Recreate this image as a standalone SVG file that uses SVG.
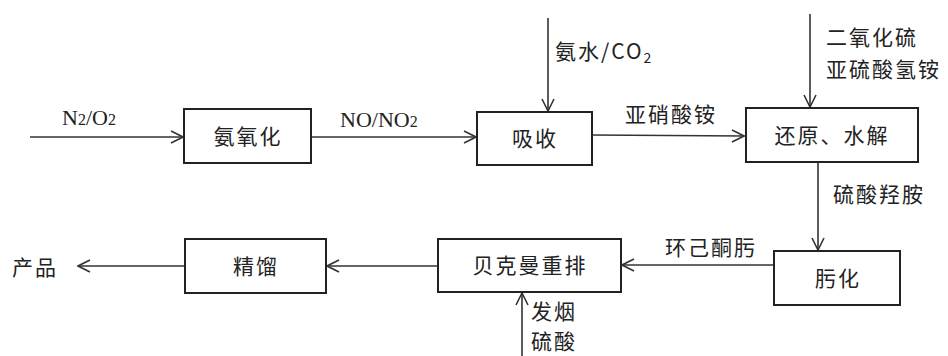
<svg xmlns="http://www.w3.org/2000/svg" width="948" height="356" viewBox="0 0 948 356">
<style>
.box{fill:#fff;stroke:#222;stroke-width:2}
.ln{fill:none;stroke:#333;stroke-width:1.6;marker-end:url(#ar)}
.t{font-family:"Noto Sans CJK SC","Noto Sans CJK JP",sans-serif;font-size:21px;fill:#222;letter-spacing:2px}
.bt{text-anchor:middle}
.r{font-family:"Liberation Serif",serif;font-size:22px;fill:#222}
</style>
<defs>
<marker id="ar" viewBox="0 0 14 14" refX="13" refY="7" markerWidth="14" markerHeight="14" markerUnits="userSpaceOnUse" orient="auto">
<path d="M1,1 L13,7 L1,13" fill="none" stroke="#333" stroke-width="1.6"/>
</marker>
</defs>
<rect width="948" height="356" fill="#fff"/>
<g id="connectors">
<line class="ln" x1="30" y1="137" x2="183" y2="137"/>
<line class="ln" x1="311" y1="137" x2="476" y2="137"/>
<line class="ln" x1="548" y1="18" x2="548" y2="111"/>
<line class="ln" x1="592" y1="135" x2="744" y2="136"/>
<line class="ln" x1="810" y1="14" x2="810" y2="107"/>
<line class="ln" x1="818" y1="162" x2="818" y2="250"/>
<line class="ln" x1="774" y1="265" x2="622" y2="265"/>
<line class="ln" x1="522" y1="356" x2="522" y2="293"/>
<line class="ln" x1="438" y1="266" x2="327" y2="266"/>
<line class="ln" x1="185" y1="266" x2="78" y2="266"/>
<text class="r" x="62" y="125">N<tspan font-size="16">2</tspan>/O<tspan font-size="16">2</tspan></text>
<text class="r" x="340" y="127">NO/NO<tspan font-size="16">2</tspan></text>
<text class="t" x="555" y="59">氨水/CO<tspan font-size="14" dy="4">2</tspan></text>
<text class="t" x="625" y="122">亚硝酸铵</text>
<text class="t" x="826" y="45">二氧化硫</text>
<text class="t" x="826" y="77">亚硫酸氢铵</text>
<text class="t" x="833" y="202">硫酸羟胺</text>
<text class="t" x="665" y="255">环己酮肟</text>
<text class="t" x="531" y="319" font-size="20">发烟</text>
<text class="t" x="531" y="349" font-size="20">硫酸</text>
<text class="t" x="12" y="275" font-size="24">产品</text>
</g>
<g id="n1"><rect class="box" x="184" y="109" width="127" height="54"/><text class="t bt" x="248" y="144">氨氧化</text></g>
<g id="n2"><rect class="box" x="477" y="112" width="115" height="53"/><text class="t bt" x="535" y="146">吸收</text></g>
<g id="n3"><rect class="box" x="746" y="108" width="172" height="54"/><text class="t bt" x="832" y="143">还原、水解</text></g>
<g id="n4"><rect class="box" x="774" y="251" width="126" height="54"/><text class="t bt" x="838" y="286">肟化</text></g>
<g id="n5"><rect class="box" x="438" y="239" width="183" height="53"/><text class="t bt" x="530" y="273">贝克曼重排</text></g>
<g id="n6"><rect class="box" x="185" y="239" width="141" height="54"/><text class="t bt" x="256" y="274">精馏</text></g>
</svg>
